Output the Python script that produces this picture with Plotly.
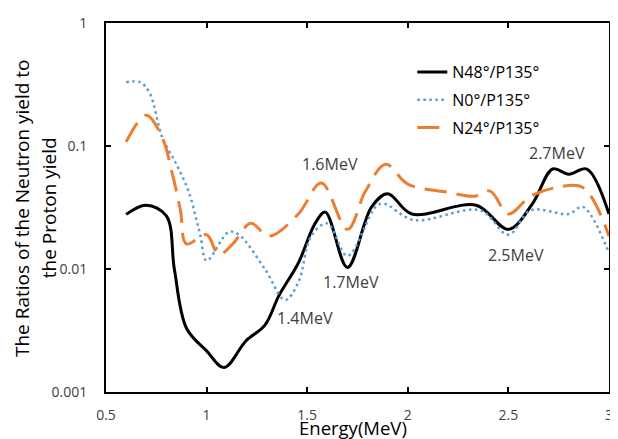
import math
import plotly.graph_objects as go

# Energy (MeV) sample points and ratios
energy_n48 = [0.6, 0.7, 0.8, 0.84, 0.9, 1.0, 1.087, 1.195, 1.29, 1.36, 1.456, 1.54, 1.59, 1.70, 1.82, 1.90, 2.02, 2.34, 2.50, 2.62, 2.72, 2.80, 2.89, 3.0]
ratio_n48 = [0.0278, 0.033, 0.027, 0.0099, 0.0033, 0.00216, 0.00158, 0.0026, 0.0035, 0.0061, 0.0112, 0.0236, 0.029, 0.0103, 0.032, 0.041, 0.028, 0.033, 0.021, 0.034, 0.065, 0.059, 0.065, 0.028]

energy_n0 = [0.6, 0.67, 0.717, 0.78, 0.85, 0.91, 0.95, 0.97, 1.0, 1.11, 1.16, 1.29, 1.39, 1.456, 1.52, 1.6, 1.70, 1.84, 1.88, 2.03, 2.36, 2.50, 2.61, 2.80, 2.87, 3.0]
ratio_n0 = [0.33, 0.33, 0.27, 0.117, 0.071, 0.043, 0.025, 0.0185, 0.0117, 0.02, 0.019, 0.01, 0.0056, 0.0078, 0.0185, 0.0235, 0.0128, 0.032, 0.034, 0.025, 0.03, 0.019, 0.03, 0.028, 0.032, 0.0135]

energy_n24 = [0.6, 0.70, 0.78, 0.83, 0.87, 0.90, 1.0, 1.06, 1.13, 1.22, 1.31, 1.456, 1.57, 1.70, 1.79, 1.89, 2.0, 2.2, 2.33, 2.41, 2.50, 2.61, 2.74, 2.87, 3.0]
ratio_n24 = [0.108, 0.178, 0.116, 0.059, 0.030, 0.016, 0.019, 0.0131, 0.016, 0.0235, 0.0185, 0.028, 0.05, 0.021, 0.043, 0.071, 0.049, 0.042, 0.039, 0.043, 0.028, 0.039, 0.046, 0.046, 0.0185]

series_names = ["N48°/P135°", "N0°/P135°", "N24°/P135°"]

ann_text = ["1.6MeV", "2.7MeV", "1.7MeV", "1.4MeV", "2.5MeV"]
ann_x = [1.614, 2.74, 1.72, 1.49, 2.54]
ann_y = [0.071, 0.0885, 0.0078, 0.004, 0.013]

x_ticks = [0.5, 1, 1.5, 2, 2.5, 3]
x_ticktext = ["0.5", "1", "1.5", "2", "2.5", "3"]
y_ticks = [0.001, 0.01, 0.1, 1]
y_ticktext = ["0.001", "0.01", "0.1", "1"]

x_title = "Energy(MeV)"
y_title_lines = ["The Ratios of the Neutron yield to", "the Proton yield"]

FONT = "Open Sans"
fig = go.Figure()
fig.add_trace(go.Scatter(x=energy_n48, y=ratio_n48, name=series_names[0], mode="lines", legendgroup="a",
                         line=dict(color="black", width=3, shape="spline", smoothing=1.0)))
fig.add_trace(go.Scatter(x=energy_n0, y=ratio_n0, name=series_names[1], mode="lines", legendgroup="b",
                         line=dict(color="#5B9BD5", width=2.5, shape="spline", smoothing=1.0, dash="2.5px,3.5px")))
fig.add_trace(go.Scatter(x=energy_n24, y=ratio_n24, name=series_names[2], mode="lines", legendgroup="c",
                         line=dict(color="#ED7D31", width=3, shape="spline", smoothing=1.0, dash="22px,10px")))

for t, x, y in zip(ann_text, ann_x, ann_y):
    fig.add_annotation(x=x, y=math.log10(y), yref="y", xref="x", text=t, showarrow=False,
                       font=dict(family=FONT, size=16, color="#404040"))

# axis titles
fig.add_annotation(xref="paper", yref="paper", x=0.491, y=-0.097, text=x_title, showarrow=False,
                   xanchor="center", yanchor="middle", font=dict(family=FONT, size=18.5, color="black"))
fig.add_annotation(xref="paper", yref="paper", x=-0.168, y=0.5, text=y_title_lines[0], showarrow=False,
                   textangle=-90, xanchor="center", yanchor="middle", font=dict(family=FONT, size=19, color="black"))
fig.add_annotation(xref="paper", yref="paper", x=-0.114, y=0.5, text=y_title_lines[1], showarrow=False,
                   textangle=-90, xanchor="center", yanchor="middle", font=dict(family=FONT, size=19, color="black"))

fig.update_layout(
    width=610, height=431,
    margin=dict(l=98, r=5, t=8, b=47),
    paper_bgcolor="white", plot_bgcolor="white",
    font=dict(family=FONT, size=14, color="#404040"),
    showlegend=True,
    legend=dict(x=0.609, y=0.913, xanchor="left", yanchor="top",
                bgcolor="rgba(0,0,0,0)", font=dict(family=FONT, size=16, color="black"),
                tracegroupgap=4),
)
fig.update_xaxes(range=[0.5, 3], tickvals=x_ticks, ticktext=x_ticktext,
                 showline=True, linecolor="black", linewidth=2, mirror="ticks",
                 ticks="inside", ticklen=5, tickcolor="black", tickwidth=1.5,
                 ticklabelstandoff=9, ticklabeloverflow="allow",
                 showgrid=False, zeroline=False)
fig.update_yaxes(type="log", range=[-3, 0], tickvals=y_ticks, ticktext=y_ticktext,
                 showline=True, linecolor="black", linewidth=2, mirror="ticks",
                 ticks="inside", ticklen=5, tickcolor="black", tickwidth=1.5,
                 ticklabelstandoff=14, ticklabeloverflow="allow",
                 showgrid=False, zeroline=False)

fig.write_html("out.html")
